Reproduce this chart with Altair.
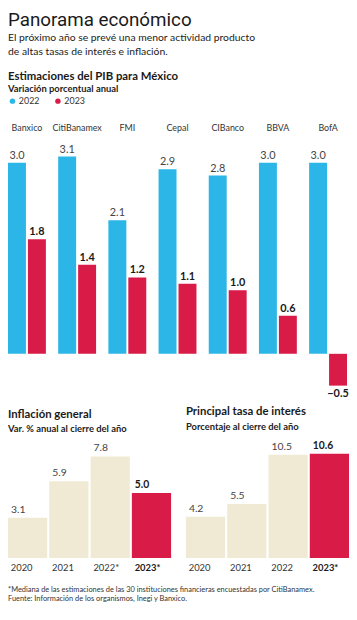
import altair as alt
import pandas as pd

# ---------------- data ----------------
institutions = ["Banxico", "CitiBanamex", "FMI", "Cepal", "CIBanco", "BBVA", "BofA"]
pib_2022 = [3.0, 3.1, 2.1, 2.9, 2.8, 3.0, 3.0]
pib_2023 = [1.8, 1.4, 1.2, 1.1, 1.0, 0.6, -0.5]
series = ["2022", "2023"]

infl_years = ["2020", "2021", "2022*", "2023*"]
infl_values = [3.1, 5.9, 7.8, 5.0]

rate_years = ["2020", "2021", "2022", "2023*"]
rate_values = [4.2, 5.5, 10.5, 10.6]

title_text = "Panorama económico"
subtitle_lines = ["El próximo año se prevé una menor actividad producto",
                  "de altas tasas de interés e inflación."]
footnote_lines = ["*Mediana de las estimaciones de las 30 instituciones financieras encuestadas por CitiBanamex.",
                  "Fuente: Información de los organismos, Inegi y Banxico."]

# ---------------- style ----------------
FONT = "Lato, 'Open Sans', sans-serif"
COND = "'Liberation Sans Narrow', 'Arial Narrow', Roboto, sans-serif"
BLUE = "#2bb6e7"
RED = "#d91b47"
BEIGE = "#f0ead4"
DARK = "#1a1a1a"
GREY = "#444444"

pib = pd.DataFrame(
    [{"inst": i, "serie": "2022", "valor": v} for i, v in zip(institutions, pib_2022)]
    + [{"inst": i, "serie": "2023", "valor": v} for i, v in zip(institutions, pib_2023)]
)

# ---------------- PIB chart ----------------
xpib = alt.X("inst:N", sort=institutions, title=None,
             scale=alt.Scale(paddingInner=0.245, paddingOuter=0),
             axis=alt.Axis(orient="top", ticks=False, domain=False, labelPadding=8,
                           labelFontSize=9, labelColor="#333333", labelFont=FONT,
                           labelAngle=0))
xoff = alt.XOffset("serie:N", sort=series, scale=alt.Scale(paddingInner=0.1))
ypib = alt.Y("valor:Q", scale=alt.Scale(domain=[-0.6, 3.36], nice=False), axis=None)

pib_bars = alt.Chart(pib).mark_bar().encode(
    x=xpib, xOffset=xoff, y=ypib,
    color=alt.Color("serie:N", sort=series,
                    scale=alt.Scale(domain=series, range=[BLUE, RED]),
                    legend=alt.Legend(title=None, orient="none", legendX=0, legendY=-44,
                                      direction="horizontal",
                                      symbolType="circle", symbolSize=30,
                                      labelFontSize=9, labelFont=FONT, labelColor="#333333",
                                      columnPadding=14, labelOffset=2,
                                      symbolStrokeWidth=0)),
)
pib_lab22 = alt.Chart(pib).transform_filter("datum.serie == '2022'").mark_text(
    baseline="bottom", dy=-2, fontSize=11, font=FONT, color=GREY
).encode(x=xpib, xOffset=xoff, y=ypib, text=alt.Text("valor:Q", format=".1f"))
pib_lab23 = alt.Chart(pib).transform_filter("datum.serie == '2023' && datum.valor >= 0").mark_text(
    baseline="bottom", dy=-2, fontSize=11, font=FONT, fontWeight="bold", color=DARK
).encode(x=xpib, xOffset=xoff, y=ypib, text=alt.Text("valor:Q", format=".1f"))
pib_labneg = alt.Chart(pib).transform_filter("datum.valor < 0").mark_text(
    baseline="top", dy=3, fontSize=11, font=FONT, fontWeight="bold", color=DARK
).encode(x=xpib, xOffset=xoff, y=ypib, text=alt.Text("valor:Q", format=".1f"))

pib_chart = alt.layer(pib_bars, pib_lab22, pib_lab23, pib_labneg).properties(
    width=343, height=255,
    title=alt.TitleParams(
        text="Estimaciones del PIB para México", subtitle="Variación porcentual anual",
        anchor="start", frame="group", font=FONT, fontSize=11.5, fontWeight="bold",
        color=DARK, subtitleFont=FONT, subtitleFontSize=9.5, subtitleFontWeight="bold",
        subtitleColor="#222222", subtitlePadding=2, offset=3),
)


# ---------------- small charts ----------------
def small(years, values, ymax, title, subtitle, width):
    df = pd.DataFrame({"year": years, "v": values})
    last = years[-1]
    xax = alt.X("year:N", sort=years, title=None,
                scale=alt.Scale(paddingInner=0.05, paddingOuter=0),
                axis=alt.Axis(ticks=False, domain=False, labelAlign="left",
                              labelOffset=-17, labelPadding=5, labelFontSize=9.5, labelFont=FONT,
                              labelAngle=0,
                              labelColor={"expr": f"datum.value == '{last}' ? '{DARK}' : '#333333'"},
                              labelFontWeight={"expr": f"datum.value == '{last}' ? 'bold' : 'normal'"}))
    yax = alt.Y("v:Q", scale=alt.Scale(domain=[0, ymax], nice=False), axis=None)
    xt = alt.X("year:N", sort=years, bandPosition=0)
    bars = alt.Chart(df).mark_bar().encode(
        x=xax, y=yax,
        color=alt.condition(f"datum.year == '{last}'", alt.value(RED), alt.value(BEIGE)),
    )
    lab = alt.Chart(df).transform_filter(f"datum.year != '{last}'").mark_text(
        align="left", baseline="bottom", dx=3, dy=-3, fontSize=10.5, font=FONT, color=GREY
    ).encode(x=xt, y=yax, text=alt.Text("v:Q", format=".1f"))
    labl = alt.Chart(df).transform_filter(f"datum.year == '{last}'").mark_text(
        align="left", baseline="bottom", dx=3, dy=-3, fontSize=10.5, font=FONT,
        fontWeight="bold", color=DARK
    ).encode(x=xt, y=yax, text=alt.Text("v:Q", format=".1f"))
    return alt.layer(bars, lab, labl).properties(
        width=width, height=116,
        title=alt.TitleParams(
            text=title, subtitle=subtitle, anchor="start", frame="group", font=FONT,
            fontSize=11.5, fontWeight="bold", color=DARK, subtitleFont=FONT,
            subtitleFontSize=9.5, subtitleFontWeight="bold", subtitleColor="#222222",
            subtitlePadding=4, offset=10),
    )


infl_chart = small(infl_years, infl_values, 8.8, "Inflación general",
                   "Var. % anual al cierre del año", 165)
rate_chart = small(rate_years, rate_values, 11.66, "Principal tasa de interés",
                   "Porcentaje al cierre del año", 165)

bottom = alt.hconcat(infl_chart, rate_chart, spacing=15).properties(
    title=alt.TitleParams(text=footnote_lines, orient="bottom", anchor="start", font=FONT,
                          fontSize=7.5, fontWeight="normal", color="#333333", lineHeight=9,
                          offset=14)
)

chart = alt.vconcat(pib_chart, bottom, spacing=6).properties(
    padding=0,
    title=alt.TitleParams(
        text=title_text, subtitle=subtitle_lines, anchor="start", font=COND, fontSize=19,
        fontWeight="normal", color=DARK, subtitleFont=FONT, subtitleFontSize=10.5,
        subtitleColor="#222222", subtitleLineHeight=14.5, subtitlePadding=3, offset=13),
).resolve_scale(color="independent").configure_view(stroke=None)

chart.save("out.html", embed_options={"renderer": "svg", "actions": False})
